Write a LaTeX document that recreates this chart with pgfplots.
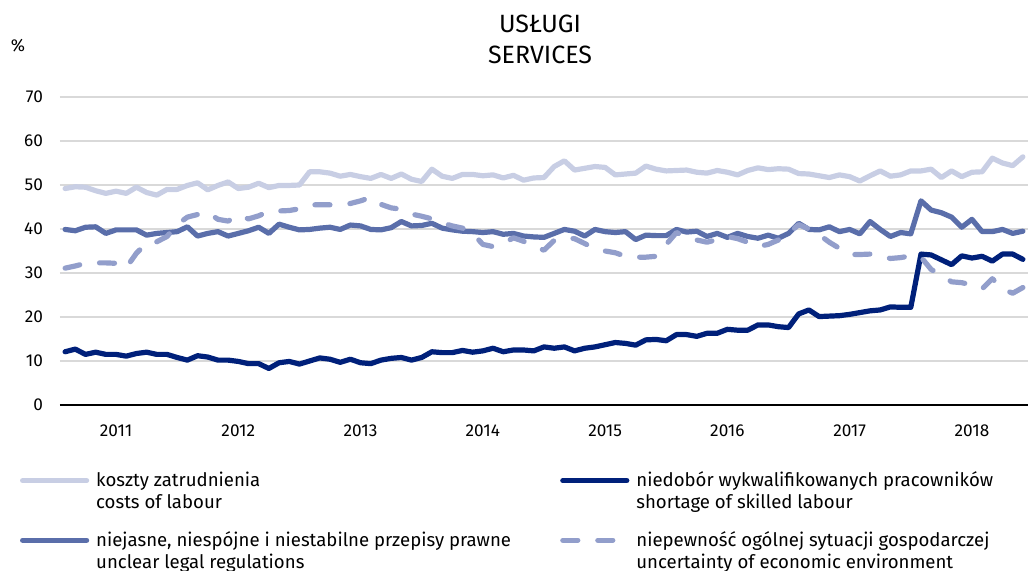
\documentclass[border=0pt]{standalone}
\usepackage{fontspec}
\setmainfont{Fira Sans}
\usepackage{pgfplots}
\usepackage{pgfplotstable}
\pgfplotsset{compat=1.18}
\definecolor{cLight}{RGB}{200,206,228}
\definecolor{cNavy}{RGB}{0,32,122}
\definecolor{cMid}{RGB}{90,110,170}
\definecolor{cDash}{RGB}{146,158,203}
\definecolor{cGrid}{RGB}{217,217,217}
\pgfplotstableread{
i L N M D
0 49.2 12.1 39.9 31.1
1 49.6 12.7 39.6 31.6
2 49.5 11.5 40.4 32.2
3 48.7 12.0 40.5 32.3
4 48.1 11.5 39.0 32.3
5 48.6 11.5 39.8 32.2
6 48.1 11.1 39.8 31.2
7 49.5 11.7 39.8 34.5
8 48.3 12.0 38.6 36.8
9 47.7 11.5 39.0 37.1
10 49.0 11.5 39.2 38.3
11 49.0 10.8 39.4 41.0
12 49.9 10.2 40.5 42.7
13 50.5 11.2 38.4 43.3
14 48.9 10.9 39.0 43.8
15 49.9 10.2 39.4 42.2
16 50.7 10.2 38.4 41.8
17 49.2 9.9 39.0 43.2
18 49.5 9.4 39.6 42.3
19 50.4 9.4 40.4 43.0
20 49.4 8.3 39.0 44.0
21 49.9 9.6 41.1 44.1
22 49.9 9.9 40.4 44.2
23 50.0 9.3 39.8 44.6
24 53.0 10.0 39.9 45.5
25 53.0 10.7 40.2 45.5
26 52.7 10.4 40.4 45.5
27 52.0 9.7 39.9 45.6
28 52.4 10.4 40.9 45.8
29 51.9 9.6 40.7 46.4
30 51.5 9.4 39.9 47.2
31 52.4 10.2 39.8 45.6
32 51.5 10.6 40.3 44.8
33 52.5 10.8 41.7 44.5
34 51.3 10.2 40.7 43.4
35 50.8 10.8 40.8 42.9
36 53.6 12.1 41.3 42.3
37 52.0 11.9 40.2 41.4
38 51.5 11.9 39.8 40.7
39 52.4 12.4 39.5 40.2
40 52.4 12.0 39.4 39.0
41 52.1 12.3 39.2 36.5
42 52.3 12.9 39.4 36.0
43 51.6 12.1 38.8 36.7
44 52.2 12.5 39.0 38.0
45 51.1 12.5 38.4 37.2
46 51.6 12.3 38.2 36.0
47 51.7 13.2 38.1 35.2
48 54.2 12.9 39.0 37.4
49 55.5 13.2 39.9 38.0
50 53.4 12.3 39.5 37.8
51 53.8 12.9 38.4 36.7
52 54.2 13.2 39.9 35.5
53 54.0 13.7 39.4 35.0
54 52.3 14.2 39.2 34.6
55 52.5 14.0 39.4 33.8
56 52.7 13.6 37.6 33.6
57 54.3 14.8 38.6 33.6
58 53.6 14.9 38.5 33.8
59 53.2 14.6 38.5 36.5
60 53.3 16.0 39.9 39.2
61 53.4 16.0 39.3 38.2
62 52.9 15.6 39.5 37.5
63 52.7 16.3 38.3 37.0
64 53.3 16.3 39.0 37.6
65 52.9 17.2 38.1 38.3
66 52.3 17.0 39.0 37.8
67 53.3 17.0 38.3 37.0
68 53.9 18.2 37.9 36.0
69 53.5 18.2 38.6 36.5
70 53.7 17.8 37.9 37.5
71 53.6 17.6 39.0 39.0
72 52.6 20.7 41.3 41.0
73 52.5 21.6 39.9 40.0
74 52.1 20.1 39.8 38.7
75 51.7 20.2 40.5 37.0
76 52.3 20.3 39.4 35.6
77 51.9 20.6 39.9 34.2
78 50.9 21.0 38.9 34.2
79 52.1 21.4 41.7 34.3
80 53.2 21.6 39.9 33.9
81 52.0 22.3 38.3 33.3
82 52.3 22.2 39.2 33.5
83 53.2 22.2 38.9 33.9
84 53.2 34.3 46.4 33.6
85 53.6 34.1 44.3 30.8
86 51.7 33.0 43.7 29.5
87 53.2 31.9 42.7 28.0
88 51.9 33.9 40.4 27.8
89 52.9 33.4 42.2 27.3
90 53.0 33.8 39.4 26.4
91 56.1 32.7 39.4 28.7
92 55.0 34.3 39.9 26.4
93 54.4 34.3 39.0 25.4
94 56.4 33.1 39.5 26.7
}\datatable
\begin{document}
\begin{tikzpicture}
\begin{axis}[
  name=ax,
  at={(0,0)}, anchor=south west,
  scale only axis, width=484pt, height=154pt,
  xmin=-0.5, xmax=94.5, ymin=0, ymax=70,
  axis x line*=bottom, axis y line*=left,
  y axis line style={draw=none},
  x axis line style={black, line width=1pt, -},
  xtick={5,17,29,41,53,65,77,89},
  xticklabels={2011,2012,2013,2014,2015,2016,2017,2018},
  ytick={0,10,...,70},
  major tick length=0pt,
  ymajorgrids, grid style={cGrid, line width=0.7pt},
  tick label style={font=\fontsize{8.6}{10}\selectfont},
  /pgf/number format/assume math mode=true,
  yticklabel style={xshift=-5pt},
  xticklabel style={yshift=-6.5pt},
  title={USŁUGI\\SERVICES},
  title style={align=center, font=\fontsize{12.5}{15.5}\selectfont, at={(axis description cs:0.4959,1.149)}, anchor=center},
  legend columns=2,
  legend cell align=left,
  legend style={draw=none, fill=none, inner sep=0pt, outer sep=0pt,
    at={(axis description cs:-0.0413,-0.2156)}, anchor=north west,
    font=\fontsize{9.3}{11}\selectfont,
    column sep=0pt, row sep=12.5pt,
    nodes={inner sep=0pt, outer sep=0pt},
    /tikz/every odd column/.append style={column sep=3.5pt}},
  legend image code/.code={\path[draw=none, fill=none] (0pt,-12.7pt) -- (0pt,0pt);
    \draw[#1, line width=2.6pt, line cap=round] (0pt,0pt) -- (32pt,0pt);},
  every axis plot/.append style={line width=2.6pt, line cap=round, line join=round},
]
\addplot[cLight] table[x=i, y=L] {\datatable};
\addlegendentry{\parbox[t]{232pt}{\strut koszty zatrudnienia\strut\\costs of labour\strut}}
\addplot[cNavy] table[x=i, y=N] {\datatable};
\addlegendentry{\parbox[t]{195pt}{\strut niedobór wykwalifikowanych pracowników\strut\\shortage of skilled labour\strut}}
\addplot[cMid] table[x=i, y=M] {\datatable};
\addlegendentry{\parbox[t]{232pt}{\strut niejasne, niespójne i niestabilne przepisy prawne\strut\\unclear legal regulations\strut}}
\addplot[cDash, dash pattern=on 7.5pt off 10pt] table[x=i, y=D] {\datatable};
\addlegendentry{\parbox[t]{195pt}{\strut niepewność ogólnej sytuacji gospodarczej\strut\\uncertainty of economic environment\strut}}
\end{axis}
\node[font=\fontsize{8.6}{10}\selectfont] at ([shift={(-21pt,179.5pt)}]ax.south west) {\%};
\pgfresetboundingbox
\path ([shift={(-30pt,-83pt)}]ax.south west) rectangle ([shift={(485pt,202.5pt)}]ax.south west);
\end{tikzpicture}
\end{document}
